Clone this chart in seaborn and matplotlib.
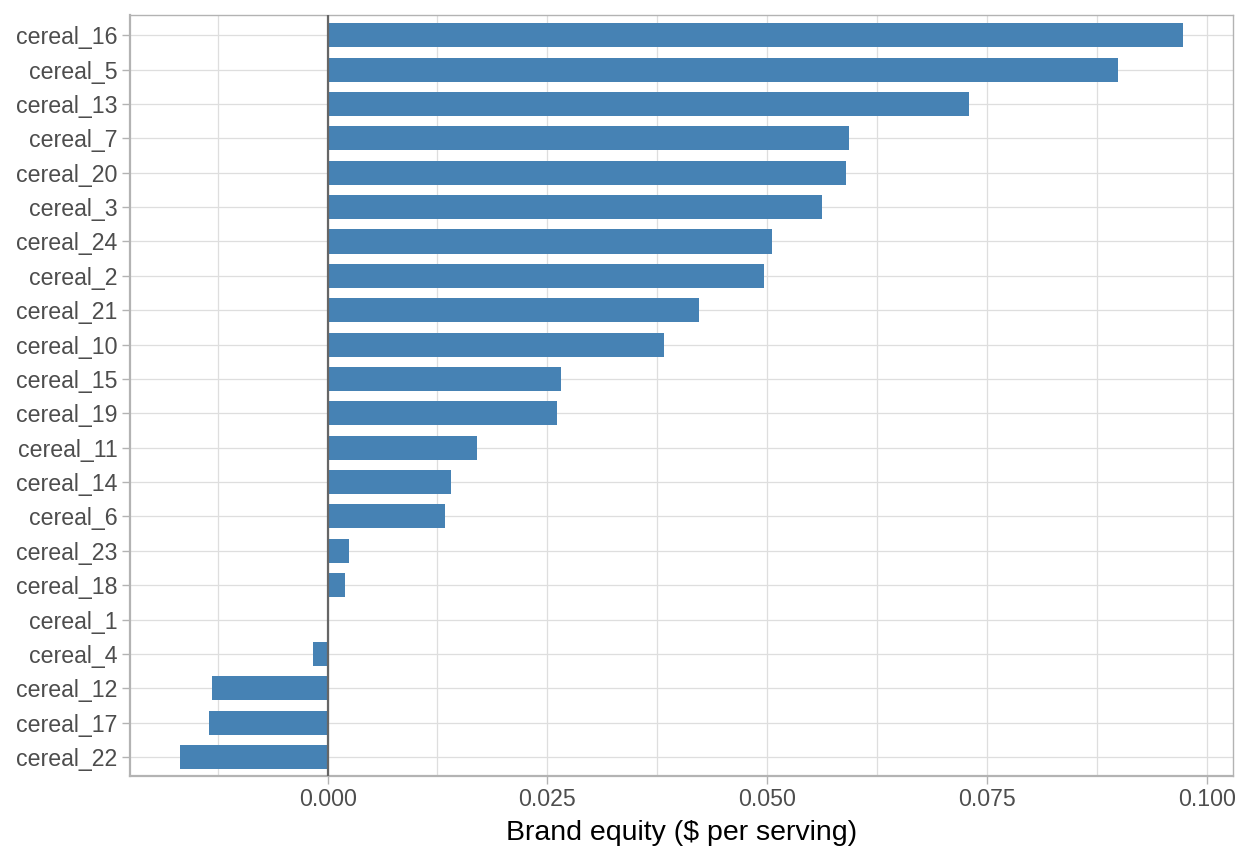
import numpy as np
import pandas as pd
import seaborn as sns
import matplotlib
matplotlib.use("Agg")
import matplotlib.pyplot as plt
from matplotlib.ticker import MultipleLocator

# brand equity per cereal (top to bottom)
cereals = ["cereal_16", "cereal_5", "cereal_13", "cereal_7", "cereal_20", "cereal_3",
           "cereal_24", "cereal_2", "cereal_21", "cereal_10", "cereal_15", "cereal_19",
           "cereal_11", "cereal_14", "cereal_6", "cereal_23", "cereal_18", "cereal_1",
           "cereal_4", "cereal_12", "cereal_17", "cereal_22"]
equity = [0.0973, 0.0899, 0.0730, 0.0593, 0.0590, 0.0563,
          0.0506, 0.0497, 0.0422, 0.0383, 0.0266, 0.0261,
          0.0170, 0.0140, 0.0133, 0.0024, 0.0020, 0.0,
          -0.0017, -0.0132, -0.0135, -0.0168]
x_ticks = [0.000, 0.025, 0.050, 0.075, 0.100]

df = pd.DataFrame({"brand": cereals, "equity": equity})

sns.set_style("white")
plt.rcParams['font.family'] = ["Liberation Sans", "DejaVu Sans"]

fig = plt.figure(figsize=(12.48, 8.64), dpi=100)
ax = fig.add_axes([0.104, 0.102, 0.884, 0.881])

grid_col = "#dedede"
sns.barplot(data=df, y="brand", x="equity", order=cereals, color="#4682B4",
            saturation=1, width=0.7, linewidth=0, ax=ax, zorder=3)

ax.axvline(0, color="#666666", lw=1.6, zorder=4)

# x range with ggplot-like 5% expansion
lo, hi = min(equity), max(equity)
pad = (hi - lo) * 0.05
ax.set_xlim(lo - pad, hi + pad)
ax.set_ylim(len(cereals) - 0.45, -0.6)

ax.set_xticks(x_ticks)
ax.set_xticklabels([f"{t:.3f}" for t in x_ticks])
ax.xaxis.set_minor_locator(MultipleLocator(0.0125))
ax.grid(True, which="major", axis="both", color=grid_col, lw=0.9, zorder=0)
ax.grid(True, which="minor", axis="x", color=grid_col, lw=0.9, zorder=0)
ax.set_axisbelow(True)

ax.tick_params(axis="both", which="major", bottom=True, left=True, length=6, width=1,
               color="#b3b3b3", labelsize=16.7, labelcolor="#4d4d4d", pad=3)
ax.tick_params(axis="x", which="minor", length=0)

for side, sp in ax.spines.items():
    sp.set_visible(True)
    sp.set_color("#b3b3b3")
    sp.set_linewidth(1.0)
ax.spines["left"].set_linewidth(1.6)
ax.spines["bottom"].set_linewidth(1.6)

ax.set_ylabel("")
ax.set_xlabel("Brand equity ($ per serving)", fontsize=20.5, color="black", labelpad=6)

plt.savefig("out.png", dpi=100)
